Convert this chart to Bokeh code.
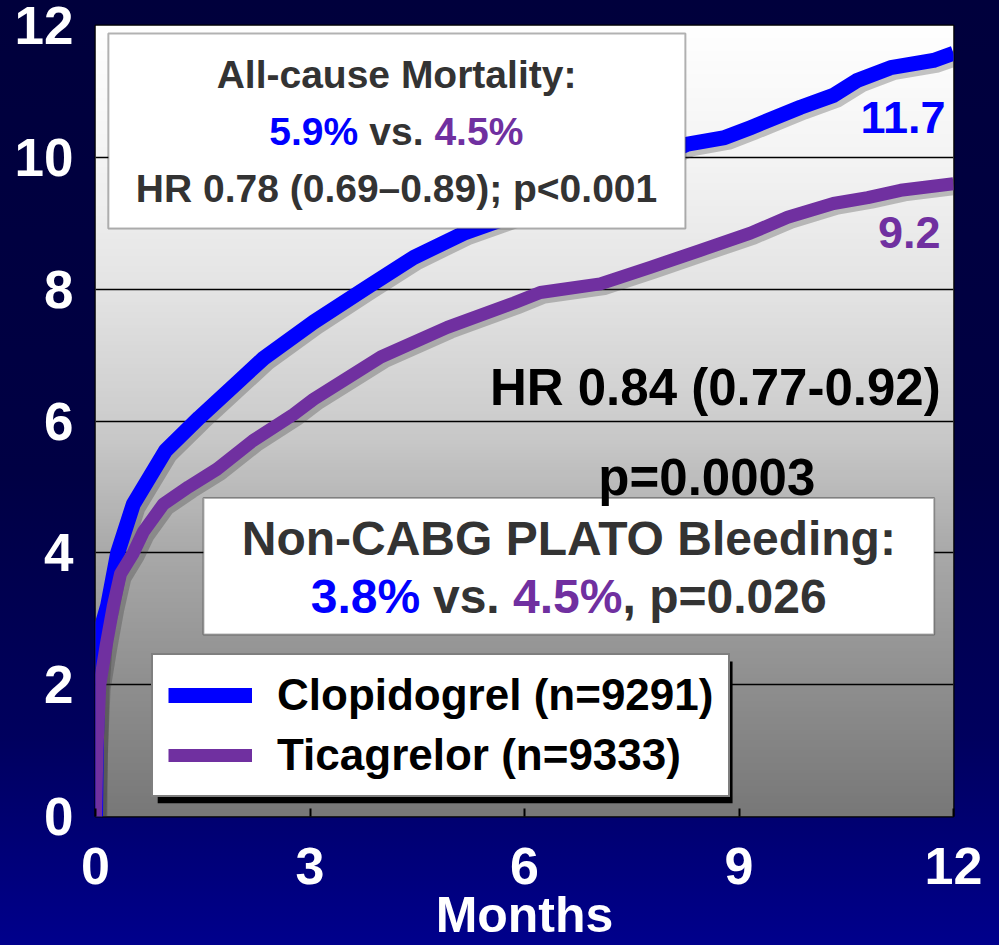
import numpy as np
from bokeh.plotting import figure
from bokeh.models import (FixedTicker, Label, BoxAnnotation, Legend, LegendItem,
                          ColumnDataSource, GlobalInlineStyleSheet)
from bokeh.transform import dodge
from bokeh.embed import file_html
from bokeh.resources import INLINE

# ---------------- data ----------------
months_clop = [0.0, 0.01, 0.03, 0.09, 0.17, 0.31, 0.53, 0.98, 1.45, 2.0, 2.35, 3.05,
               3.8, 4.45, 5.15, 5.8, 7.0, 8.28, 8.8, 9.16, 9.86, 10.32, 10.66, 11.12,
               11.72, 12.0]
pct_clop = [0.0, 1.0, 2.0, 2.9, 3.2, 4.0, 4.74, 5.55, 6.05, 6.6, 6.95, 7.5,
            8.03, 8.48, 8.85, 9.1, 9.6, 10.2, 10.3, 10.45, 10.76, 10.94, 11.17, 11.36,
            11.47, 11.58]

months_tica = [0.0, 0.02, 0.06, 0.15, 0.25, 0.35, 0.53, 0.67, 0.95, 1.3, 1.7, 2.2,
               2.77, 3.05, 3.99, 4.92, 5.85, 6.22, 7.06, 7.76, 8.46, 9.16, 9.68,
               10.32, 10.8, 11.26, 12.0]
pct_tica = [0.0, 1.0, 2.0, 2.6, 3.2, 3.68, 4.0, 4.32, 4.74, 5.0, 5.27, 5.7,
            6.1, 6.33, 6.97, 7.42, 7.79, 7.95, 8.08, 8.33, 8.59, 8.85, 9.09,
            9.3, 9.39, 9.5, 9.6]

x_ticks = [0, 3, 6, 9, 12]
y_ticks = [0, 2, 4, 6, 8, 10, 12]
series_names = ["Clopidogrel (n=9291)", "Ticagrelor (n=9333)"]
end_labels = ["11.7", "9.2"]

BLUE = "#0000ff"
PURPLE = "#7030a0"
DARK = "#333333"
REG = "'Liberation Sans', Arial, sans-serif"

page_bg = GlobalInlineStyleSheet(css="""
html, body { background: linear-gradient(to bottom, #00003c 0%, #000044 50%, #00005e 78%, #00008c 100%); }
""")

p = figure(width=999, height=945, x_range=(0, 12), y_range=(0, 12),
           output_backend="svg", toolbar_location=None,
           min_border_left=95, min_border_right=46, min_border_top=25, min_border_bottom=128,
           stylesheets=[page_bg])
p.border_fill_color = None
p.border_fill_alpha = 0
p.outline_line_color = "black"
p.outline_line_width = 2

# plot-area gradient (white at top -> grey at bottom)
levels_y = [0, 2, 4, 6, 8, 10, 12]
levels_g = [120, 143, 169, 205, 228, 244, 255]
N = 240
g = np.interp(np.linspace(0, 12, N), levels_y, levels_g).astype(np.uint8)
img = np.empty((N, 1), dtype=np.uint32)
view = img.view(dtype=np.uint8).reshape((N, 1, 4))
view[:, 0, 0] = g
view[:, 0, 1] = g
view[:, 0, 2] = g
view[:, 0, 3] = 255
p.image_rgba(image=[img], x=0, y=0, dw=12, dh=12, level="image")

# axes
for ax in (p.xaxis, p.yaxis):
    ax.axis_line_color = None
    ax.minor_tick_line_color = None
    ax.major_label_text_color = "white"
    ax.major_label_text_font = REG
    ax.major_label_text_font_style = "bold"
p.xaxis.ticker = FixedTicker(ticks=x_ticks)
p.yaxis.ticker = FixedTicker(ticks=y_ticks)
p.xaxis.major_label_text_font_size = "52px"
p.yaxis.major_label_text_font_size = "53px"
p.xaxis.major_tick_in = 8
p.xaxis.major_tick_out = 0
p.xaxis.major_tick_line_color = "black"
p.xaxis.major_tick_line_width = 2
p.yaxis.major_tick_in = 0
p.yaxis.major_tick_out = 0
p.xaxis.major_label_standoff = 31
p.yaxis.major_label_standoff = 22
p.xaxis.axis_label = "Months"
p.xaxis.axis_label_text_font = REG
p.xaxis.axis_label_text_font_size = "50px"
p.xaxis.axis_label_text_font_style = "bold"
p.xaxis.axis_label_text_color = "white"
p.xaxis.axis_label_standoff = 0

p.xgrid.visible = False
p.ygrid.ticker = FixedTicker(ticks=y_ticks)
p.ygrid.grid_line_color = "black"
p.ygrid.grid_line_width = 1.5

# curves (soft drop shadow first, then the curve)
src_clop = ColumnDataSource(data=dict(x=months_clop, y=pct_clop))
src_tica = ColumnDataSource(data=dict(x=months_tica, y=pct_tica))
for src, w in ((src_clop, 15), (src_tica, 13)):
    p.line(x=dodge("x", 0.06, range=p.x_range), y=dodge("y", -0.07, range=p.y_range),
           source=src, line_color="#303030", line_alpha=0.28, line_width=w,
           line_join="round")
r_clop = p.line("x", "y", source=src_clop, line_color=BLUE, line_width=15,
                line_join="round")
r_tica = p.line("x", "y", source=src_tica, line_color=PURPLE, line_width=13,
                line_join="round")

# ---------------- boxes and texts ----------------
box1 = BoxAnnotation(left=0.18, right=8.25, bottom=8.92, top=11.88,
                     fill_color="white", fill_alpha=1, line_color="black", line_width=2)
box2 = BoxAnnotation(left=1.51, right=11.73, bottom=2.76, top=4.83,
                     fill_color="white", fill_alpha=1, line_color="black", line_width=2)
legend_shadow = BoxAnnotation(left=0.87, right=8.91, bottom=0.2, top=2.35,
                              fill_color="black", fill_alpha=1, line_color=None)
p.add_layout(box1)
p.add_layout(box2)
p.add_layout(legend_shadow)


def lab(x, y, text, color, size, align="center"):
    # y is the vertical centre of the text
    p.add_layout(Label(x=x, y=y, text=text, text_color=color, text_font_size=size,
                       text_font=REG, text_font_style="bold", text_align=align,
                       text_baseline="middle"))


# box 1
lab(4.21, 11.258, "All-cause Mortality:", DARK, "39px")
lab(2.43, 10.394, "5.9%", BLUE, "39px", "left")
lab(3.83, 10.394, "vs.", DARK, "39px", "left")
lab(4.74, 10.394, "4.5%", PURPLE, "39px", "left")
lab(4.21, 9.53, "HR 0.78 (0.69\u20130.89); p<0.001", DARK, "39px")

# box 2
lab(6.62, 4.22, "Non-CABG PLATO Bleeding:", DARK, "48px")
lab(3.01, 3.33, "3.8%", BLUE, "48px", "left")
lab(4.72, 3.33, "vs.", DARK, "48px", "left")
lab(5.84, 3.33, "4.5%", PURPLE, "48px", "left")
lab(7.37, 3.33, ", p=0.026", DARK, "48px", "left")

# HR / p
lab(11.82, 6.508, "HR 0.84 (0.77-0.92)", "black", "51px", "right")
lab(8.55, 5.144, "p=0.0003", "black", "51px")

# end values
lab(11.89, 10.6, end_labels[0], BLUE, "45px", "right")
lab(11.82, 8.856, end_labels[1], PURPLE, "45px", "right")

# legend
legend = Legend(items=[LegendItem(label=series_names[0], renderers=[r_clop]),
                       LegendItem(label=series_names[1], renderers=[r_tica])],
                location=(56, 19), orientation="vertical",
                label_text_font=REG, label_text_font_size="44px",
                label_text_font_style="bold", label_text_color="black",
                glyph_width=84, glyph_height=16, label_standoff=25,
                padding=15, spacing=10, margin=0,
                border_line_color="black", border_line_width=2,
                background_fill_color="white", background_fill_alpha=1)
p.add_layout(legend, "center")

open("out.html", "w").write(file_html(p, INLINE))
